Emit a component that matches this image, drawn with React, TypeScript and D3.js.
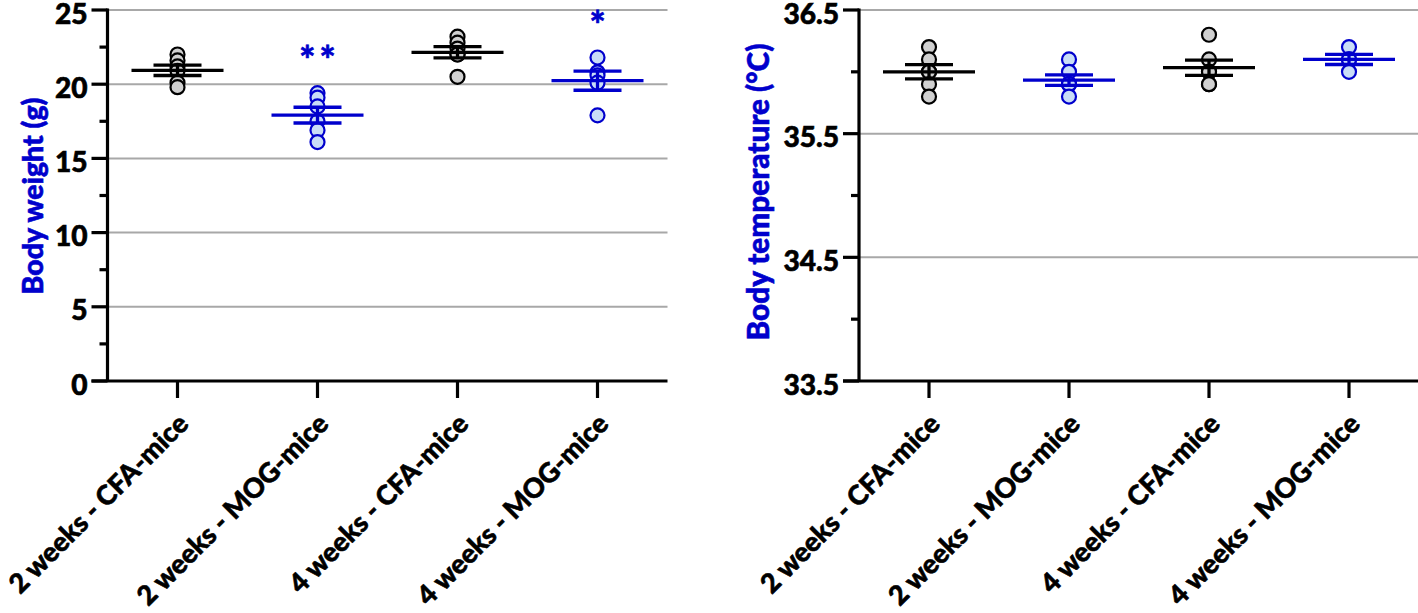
import React, { useLayoutEffect, useRef } from "react";
import * as d3 from "d3";

const categories = ["2 weeks - CFA-mice", "2 weeks - MOG-mice", "4 weeks - CFA-mice", "4 weeks - MOG-mice"];
const groupType = ["CFA", "MOG", "CFA", "MOG"];

const weightValues: number[][] = [
  [22.0, 21.6, 21.2, 20.9, 20.1, 19.8],
  [19.4, 19.1, 18.5, 17.5, 16.9, 16.1],
  [23.2, 22.8, 22.4, 22.0, 22.0, 20.5],
  [21.8, 20.8, 20.6, 20.1, 17.9],
];
const tempValues: number[][] = [
  [36.2, 36.1, 36.0, 36.0, 35.9, 35.8],
  [36.1, 36.0, 35.9, 35.9, 35.9, 35.8],
  [36.3, 36.1, 36.0, 36.0, 35.9, 35.9],
  [36.2, 36.1, 36.1, 36.0],
];
const weightSig = ["", "**", "", "*"];
const weightTicks = [0, 5, 10, 15, 20, 25];
const weightMinor = [2.5, 7.5, 12.5, 17.5, 22.5];
const tempTicks = [33.5, 34.5, 35.5, 36.5];
const tempMinor = [34.0, 35.0, 36.0];

const BLUE = "#0000CC";
const FONT = "Lato, 'Open Sans', sans-serif";
const WEIGHT = 900;
const HEAVY = 0.6;

function stats(v: number[]) {
  const m = d3.mean(v) as number;
  const sd = d3.deviation(v) as number;
  return { m, sem: sd / Math.sqrt(v.length) };
}

type PanelProps = {
  x0: number;
  domain: [number, number];
  data: number[][];
  ticks: number[];
  minor: number[];
  grid: number[];
  fmt: (n: number) => string;
  title: string;
  titleX: number;
  titleY: number;
  titleLen: number;
  tickRef: string;
  tickRefLen: number;
  sig?: string[];
};

function Panel(p: PanelProps) {
  const top = 10, bottom = 381;
  const x = d3.scaleBand<string>().domain(categories).range([p.x0, p.x0 + 560]).padding(0);
  const y = d3.scaleLinear().domain(p.domain).range([bottom, top]);
  const cx = (c: string) => (x(c) as number) + x.bandwidth() / 2;
  return (
    <g>
      {p.grid.map((g) => (
        <line key={"g" + g} x1={p.x0} x2={p.x0 + 560} y1={y(g)} y2={y(g)} stroke="#A8A8A8" strokeWidth={2} />
      ))}
      {categories.map((c, i) => {
        const col = groupType[i] === "MOG" ? BLUE : "#000";
        const fill = groupType[i] === "MOG" ? "#C9DDF7" : "#D0D0D0";
        const s = stats(p.data[i]);
        const xc = cx(c);
        const mx = d3.max(p.data[i]) as number;
        return (
          <g key={c}>
            {p.data[i].map((v, j) => (
              <circle key={j} cx={xc} cy={y(v)} r={7} fill={fill} stroke={col} strokeWidth={2.2} />
            ))}
            <line x1={xc - 46} x2={xc + 46} y1={y(s.m)} y2={y(s.m)} stroke={col} strokeWidth={3.3} />
            <line x1={xc} x2={xc} y1={y(s.m - s.sem)} y2={y(s.m + s.sem)} stroke={col} strokeWidth={3.3} />
            <line x1={xc - 24} x2={xc + 24} y1={y(s.m + s.sem)} y2={y(s.m + s.sem)} stroke={col} strokeWidth={3.3} />
            <line x1={xc - 24} x2={xc + 24} y1={y(s.m - s.sem)} y2={y(s.m - s.sem)} stroke={col} strokeWidth={3.3} />
            {p.sig && p.sig[i] ? (
              <text x={xc + 2} y={y(mx + 2.75) + 22} textAnchor="middle" fill={BLUE} stroke={BLUE} strokeWidth={HEAVY} fontFamily={FONT} fontWeight={WEIGHT} fontSize={38} letterSpacing={4}>
                {p.sig[i]}
              </text>
            ) : null}
          </g>
        );
      })}
      {/* axes */}
      <line x1={p.x0} x2={p.x0} y1={top - 1.5} y2={bottom} stroke="#000" strokeWidth={3.2} />
      <line x1={p.x0 - 16} x2={p.x0 + 560} y1={bottom} y2={bottom} stroke="#000" strokeWidth={3.2} />
      {p.ticks.map((t) => (
        <g key={"t" + t}>
          <line x1={p.x0 - 16} x2={p.x0} y1={y(t)} y2={y(t)} stroke="#000" strokeWidth={3.2} />
          <text
            className="ytick"
            data-ref={p.fmt(t) === p.tickRef ? p.tickRefLen : undefined}
            x={p.x0 - 20}
            y={y(t) + 2.5}
            textAnchor="end"
            dominantBaseline="central"
            fontFamily={FONT}
            fontWeight={WEIGHT}
            fontSize={29}
            fill="#000"
            stroke="#000"
            strokeWidth={HEAVY}
          >
            {p.fmt(t)}
          </text>
        </g>
      ))}
      {p.minor.map((t) => (
        <line key={"m" + t} x1={p.x0 - 8} x2={p.x0} y1={y(t)} y2={y(t)} stroke="#000" strokeWidth={3.2} />
      ))}
      {categories.map((c, i) => (
        <g key={"x" + c}>
          <line x1={cx(c)} x2={cx(c)} y1={bottom} y2={bottom + 17} stroke="#000" strokeWidth={3.2} />
          <text
            className="xlab"
            data-ref={i === 0 ? 240 : undefined}
            transform={`translate(${cx(c) + 5},${bottom + 37}) rotate(-45)`}
            textAnchor="end"
            dominantBaseline="central"
            fontFamily={FONT}
            fontWeight={WEIGHT}
            fontSize={28}
            fill="#000"
            stroke="#000"
            strokeWidth={HEAVY}
          >
            {c}
          </text>
        </g>
      ))}
      <text
        className="ytitle"
        data-ref={p.titleLen}
        transform={`translate(${p.titleX},${p.titleY}) rotate(-90)`}
        textAnchor="middle"
        dominantBaseline="central"
        fontFamily={FONT}
        fontWeight={WEIGHT}
        fontSize={26}
        fill={BLUE}
        stroke={BLUE}
        strokeWidth={HEAVY}
      >
        {p.title}
      </text>
    </g>
  );
}

function fitClass(svg: SVGSVGElement, cls: string, perElement: boolean) {
  const els = Array.from(svg.querySelectorAll<SVGTextElement>("text." + cls));
  if (perElement) {
    els.forEach((el) => {
      const target = Number(el.getAttribute("data-ref"));
      const fs = Number(el.getAttribute("font-size"));
      const len = el.getComputedTextLength();
      if (target && len) el.setAttribute("font-size", String((fs * target) / len));
    });
    return;
  }
  const refs = els.filter((e) => e.getAttribute("data-ref"));
  const scales = refs.map((e) => Number(e.getAttribute("data-ref")) / e.getComputedTextLength());
  const k = d3.mean(scales);
  if (!k || !isFinite(k)) return;
  els.forEach((el) => {
    const fs = Number(el.getAttribute("font-size"));
    el.setAttribute("font-size", String(fs * k));
  });
}

export default function App() {
  const ref = useRef<SVGSVGElement>(null);
  useLayoutEffect(() => {
    const svg = ref.current;
    if (!svg) return;
    fitClass(svg, "ytick", false);
    fitClass(svg, "xlab", false);
    fitClass(svg, "ytitle", true);
  }, []);
  return (
    <svg ref={ref} width={1418} height={613} style={{ position: "absolute", left: 0, top: 0, background: "#fff" }}>
      <Panel
        x0={107.5}
        domain={[0, 25]}
        data={weightValues}
        ticks={weightTicks}
        minor={weightMinor}
        grid={[5, 10, 15, 20, 25]}
        fmt={(n) => String(n)}
        title="Body weight (g)"
        titleX={32}
        titleY={196}
        titleLen={197}
        tickRef="25"
        tickRefLen={33}
        sig={weightSig}
      />
      <Panel
        x0={859}
        domain={[33.5, 36.5]}
        data={tempValues}
        ticks={tempTicks}
        minor={tempMinor}
        grid={[34.5, 35.5, 36.5]}
        fmt={(n) => n.toFixed(1)}
        title="Body temperature (°C)"
        titleX={757}
        titleY={192}
        titleLen={297}
        tickRef="36.5"
        tickRefLen={55}
      />
    </svg>
  );
}
